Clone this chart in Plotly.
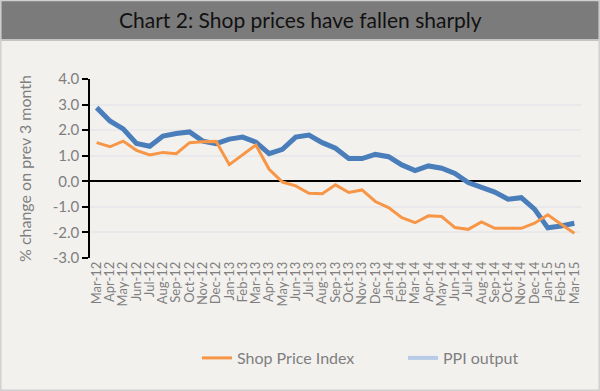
import plotly.graph_objects as go

months = ["Mar-12","Apr-12","May-12","Jun-12","Jul-12","Aug-12","Sep-12","Oct-12","Nov-12","Dec-12",
          "Jan-13","Feb-13","Mar-13","Apr-13","May-13","Jun-13","Jul-13","Aug-13","Sep-13","Oct-13",
          "Nov-13","Dec-13","Jan-14","Feb-14","Mar-14","Apr-14","May-14","Jun-14","Jul-14","Aug-14",
          "Sep-14","Oct-14","Nov-14","Dec-14","Jan-15","Feb-15","Mar-15"]

shop_price_index = [1.51, 1.35, 1.57, 1.21, 1.03, 1.13, 1.08, 1.51, 1.55, 1.56,
                    0.65, 1.05, 1.42, 0.47, -0.03, -0.18, -0.47, -0.49, -0.14, -0.44,
                    -0.34, -0.79, -1.03, -1.42, -1.62, -1.35, -1.38, -1.81, -1.88, -1.59,
                    -1.84, -1.84, -1.84, -1.64, -1.31, -1.68, -2.03]

ppi_output = [2.88, 2.36, 2.05, 1.48, 1.37, 1.77, 1.87, 1.93, 1.57, 1.47,
              1.65, 1.73, 1.53, 1.08, 1.25, 1.73, 1.81, 1.51, 1.29, 0.89,
              0.89, 1.05, 0.96, 0.64, 0.42, 0.60, 0.51, 0.31, -0.05, -0.25,
              -0.42, -0.70, -0.64, -1.09, -1.82, -1.75, -1.64]

y_ticks = [4, 3, 2, 1, 0, -1, -2, -3]
y_tick_labels = ["4.0", "3.0", "2.0", "1.0", "0.0", "-1.0", "-2.0", "-3.0"]

FONT = "Lato"
GREY = "#7f7f7f"
BG = "#f3f1ee"
PW, PH, L, T = 491, 179, 90, 79

def px(x):
    return (x - L) / PW

def py(y):
    return (T + PH - y) / PH

fig = go.Figure()
fig.add_trace(go.Scatter(x=months, y=ppi_output, mode="lines", name="PPI output",
                         line=dict(color="#4a7ebb", width=5), showlegend=False))
fig.add_trace(go.Scatter(x=months, y=shop_price_index, mode="lines", name="Shop Price Index",
                         line=dict(color="#f79646", width=3), legend="legend"))
fig.add_trace(go.Scatter(x=[None], y=[None], mode="lines", name="PPI output",
                         line=dict(color="#b7cbe6", width=4), legend="legend2"))

legend_common = dict(orientation="h", yanchor="middle", xanchor="left",
                     font=dict(size=16, color=GREY), itemwidth=30, bgcolor="rgba(0,0,0,0)")

fig.update_layout(
    width=600, height=391,
    margin=dict(l=L, r=600 - L - PW, t=T, b=391 - T - PH),
    paper_bgcolor=BG, plot_bgcolor=BG,
    font=dict(family=FONT, color=GREY),
    showlegend=True,
    legend=dict(x=px(197), y=py(358), **legend_common),
    legend2=dict(x=px(403), y=py(358), **legend_common),
    xaxis=dict(type="category", range=[-0.5, 36.5], tickangle=-90, showgrid=False,
               tickmode="array", tickvals=months, ticktext=months,
               tickfont=dict(size=13, color=GREY), showline=False, zeroline=False,
               ticks=""),
    yaxis=dict(range=[-3, 4], tickvals=y_ticks, ticktext=y_tick_labels,
               tickfont=dict(size=15, color=GREY), showline=True, linecolor="black",
               linewidth=1.5, ticks="outside", ticklen=6, tickcolor="black", tickwidth=1.5,
               showgrid=True, gridcolor="#e9e9eb", gridwidth=2,
               zeroline=True, zerolinecolor="black", zerolinewidth=1.5,
               title=dict(text="% change on prev 3 month", font=dict(size=16, color=GREY), standoff=17)),
    shapes=[
        dict(type="rect", xref="paper", yref="paper", x0=px(0), x1=px(600),
             y0=py(39), y1=py(0), fillcolor="#7b7b7b", line=dict(width=0), layer="above"),
        dict(type="line", xref="paper", yref="paper", x0=px(0), x1=px(600),
             y0=py(40), y1=py(40), line=dict(color="#c4c4c4", width=2)),
        dict(type="rect", xref="paper", yref="paper", x0=px(0.8), x1=px(599.2),
             y0=py(390.2), y1=py(0.5), line=dict(color="#d0d0d0", width=1.5)),
    ],
    annotations=[
        dict(text="Chart 2: Shop prices have fallen sharply", xref="paper", yref="paper",
             x=px(300), y=py(20), xanchor="center", yanchor="middle", showarrow=False,
             font=dict(family=FONT, size=21, color="#111111")),
    ],
)

fig.write_html("out.html", config={"displayModeBar": False},
               post_script="document.body.style.margin='0';")
